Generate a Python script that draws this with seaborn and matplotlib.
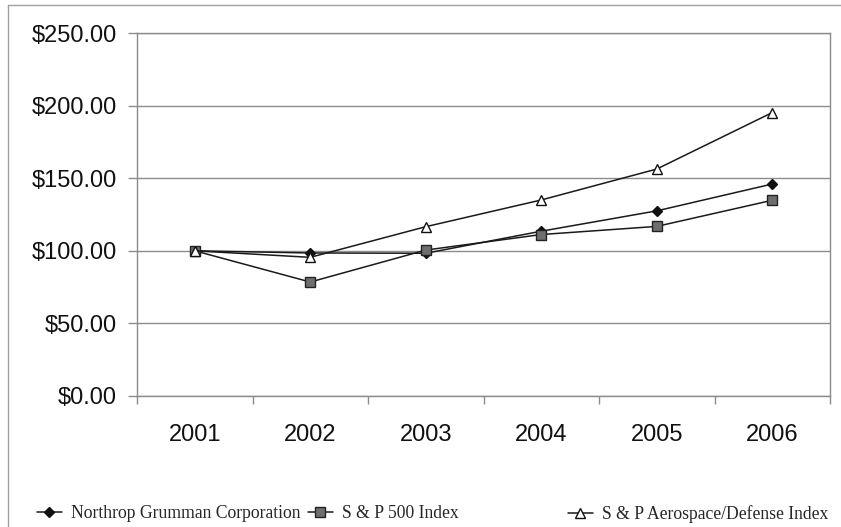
import matplotlib
matplotlib.use("Agg")
import matplotlib.pyplot as plt
import seaborn as sns
import pandas as pd
import numpy as np
from matplotlib.lines import Line2D
from matplotlib.ticker import FixedLocator

years = ["2001", "2002", "2003", "2004", "2005", "2006"]
northrop = [100, 98.5, 98.3, 113.5, 127.5, 146]
sp500 = [100, 78.5, 100.5, 111.2, 116.8, 134.8]
aero = [100, 95.5, 116.6, 135, 156.3, 195.2]
series_names = ["Northrop Grumman Corporation", "S & P 500 Index",
                "S & P Aerospace/Defense Index"]
yticks = [0, 50, 100, 150, 200, 250]
ytick_labels = ["$0.00", "$50.00", "$100.00", "$150.00", "$200.00", "$250.00"]

sns.set_theme(style="white")
plt.rcParams["font.family"] = ["Liberation Sans", "DejaVu Sans"]

W, H = 841, 527
fig = plt.figure(figsize=(W / 100, H / 100), dpi=100)
ax = fig.add_axes([137 / W, 1 - 396 / H, (830 - 137) / W, (396 - 33) / H])

grey = "#8c8c8c"
linec = "#1a1a1a"
styles = [
    dict(marker="D", markersize=5.5, markerfacecolor="#111111", markeredgecolor="#111111"),
    dict(marker="s", markersize=7, markerfacecolor="#6e6e6e", markeredgecolor="#222222"),
    dict(marker="^", markersize=7.5, markerfacecolor="white", markeredgecolor="#111111"),
]
handles = []
for name, vals, st in zip(series_names, [northrop, sp500, aero], styles):
    df = pd.DataFrame({"Year": years, "Value": vals})
    sns.lineplot(data=df, x="Year", y="Value", ax=ax, color=linec, linewidth=1.1,
                 markeredgewidth=1.0, **st)
    handles.append(Line2D([], [], color=linec, linewidth=1.1, markeredgewidth=1.0, **st))

ax.set_xlim(-0.5, 5.5)
ax.set_ylim(0, 250)
ax.set_yticks(yticks)
ax.set_yticklabels(ytick_labels)
ax.set_xlabel("")
ax.set_ylabel("")
ax.grid(axis="y", color=grey, linewidth=1.0)
ax.grid(axis="x", visible=False)
ax.set_axisbelow(True)
for sp in ax.spines.values():
    sp.set_visible(True)
    sp.set_color(grey)
    sp.set_linewidth(1.0)
ax.tick_params(axis="y", which="major", length=6.5, width=1, color=grey, direction="out",
               labelsize=17, labelcolor="#111111", pad=8, left=True)
ax.tick_params(axis="x", which="major", length=0, labelsize=17, labelcolor="#111111", pad=20)
ax.xaxis.set_minor_locator(FixedLocator(np.arange(-0.5, 6.0, 1.0)))
ax.tick_params(axis="x", which="minor", length=6, width=1, color=grey, direction="out", bottom=True)

# legend entries in equal slots
slots = [37, 308, 568]
for h, name, x0 in zip(handles, series_names, slots):
    leg = fig.legend([h], [name], loc="center left",
                     bbox_to_anchor=(x0 / W, 1 - 514 / H), frameon=False,
                     prop={"family": ["Liberation Serif"], "size": 12.7},
                     handlelength=1.4, handletextpad=0.5, borderpad=0, borderaxespad=0)

# figure border
fig.add_artist(Line2D([8 / W, 8 / W], [1 - 5 / H, 0], transform=fig.transFigure,
                      color="#a0a0a0", linewidth=1.0))
fig.add_artist(Line2D([8 / W, 1], [1 - 5 / H, 1 - 5 / H], transform=fig.transFigure,
                      color="#a0a0a0", linewidth=1.0))

fig.savefig("out.png", dpi=100)
